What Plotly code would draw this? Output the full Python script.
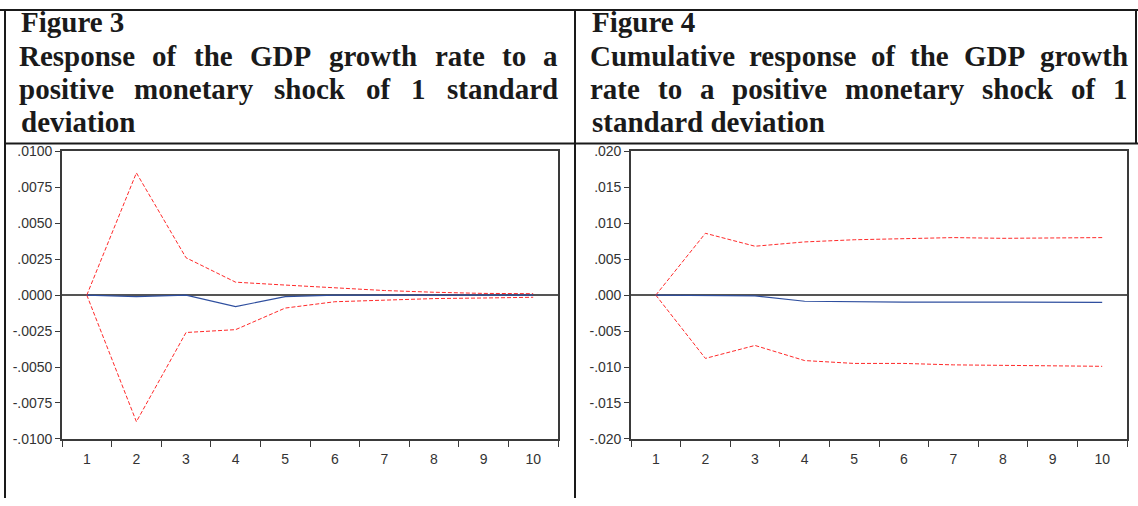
import plotly.graph_objects as go

# Impulse-response horizons
periods = [1, 2, 3, 4, 5, 6, 7, 8, 9, 10]

# Figure 3: response of GDP growth to a monetary shock (with +/- 2 S.E. bands)
resp_mid = [0.0, -0.0001, 0.0, -0.0008, -0.0001, 0.0, 0.0, 0.0, 0.0, 0.0]
resp_upper = [0.0, 0.0085, 0.0026, 0.0009, 0.0007, 0.0005, 0.00032, 0.0002, 0.00012, 0.0001]
resp_lower = [0.0, -0.0088, -0.0026, -0.0024, -0.0009, -0.00046, -0.00035, -0.00024, -0.0002, -0.00015]

# Figure 4: cumulative response
cum_mid = [0.0, -0.0001, -0.0001, -0.00085, -0.00095, -0.00097, -0.00097, -0.00098, -0.001, -0.001]
cum_upper = [0.0, 0.0086, 0.0068, 0.0074, 0.0077, 0.0078, 0.008, 0.0079, 0.0079, 0.008]
cum_lower = [0.0, -0.0088, -0.007, -0.0091, -0.0095, -0.0095, -0.0097, -0.0098, -0.0099, -0.0099]

# Axis ticks
resp_ticks = [-0.01, -0.0075, -0.005, -0.0025, 0.0, 0.0025, 0.005, 0.0075, 0.01]
cum_ticks = [-0.02, -0.015, -0.01, -0.005, 0.0, 0.005, 0.01, 0.015, 0.02]

# Panel headings (each inner list is one printed line)
left_heading = [["Figure", "3"],
                ["Response", "of", "the", "GDP", "growth", "rate", "to", "a"],
                ["positive", "monetary", "shock", "of", "1", "standard"],
                ["deviation"]]
right_heading = [["Figure", "4"],
                 ["Cumulative", "response", "of", "the", "GDP", "growth"],
                 ["rate", "to", "a", "positive", "monetary", "shock", "of", "1"],
                 ["standard", "deviation"]]
left_justified = [False, True, True, False]
right_justified = [False, True, True, False]

W, H = 1138, 506
RED = "#ff2a2a"
BLUE = "#2f4f9f"
INK = "#1a1a1a"
TITLE_FONT = "Liberation Serif"
TITLE_SIZE = 29

# Times-Bold advance widths (1/1000 em), metric-compatible with Liberation Serif Bold
TB = {" ": 250, "1": 500, "3": 500, "4": 500, "C": 722, "D": 722, "F": 611, "G": 778, "P": 611, "R": 722,
      "a": 500, "c": 444, "d": 556, "e": 444, "f": 333, "g": 500, "h": 556, "i": 278, "k": 556, "l": 278,
      "m": 833, "n": 556, "o": 500, "p": 556, "r": 444, "s": 389, "t": 333, "u": 556, "v": 500, "w": 722,
      "y": 500}


def text_w(word):
    return sum(TB.get(ch, 500) for ch in word) * TITLE_SIZE / 1000.0


def px_x(x):
    return x / W


def px_y(y):
    return 1 - y / H


def ticktext(vals, digits):
    out = []
    for v in vals:
        s = f"{v:.{digits}f}"
        if s.startswith("-0."):
            s = "-" + s[2:]
        elif s.startswith("0."):
            s = s[1:]
        out.append(s)
    return out


fig = go.Figure()

dash = "4px,2px"
fig.add_trace(go.Scatter(x=periods, y=resp_upper, mode="lines", line=dict(color=RED, width=1, dash=dash),
                         xaxis="x", yaxis="y", showlegend=False))
fig.add_trace(go.Scatter(x=periods, y=resp_lower, mode="lines", line=dict(color=RED, width=1, dash=dash),
                         xaxis="x", yaxis="y", showlegend=False))
fig.add_trace(go.Scatter(x=periods, y=resp_mid, mode="lines", line=dict(color=BLUE, width=1.2),
                         xaxis="x", yaxis="y", showlegend=False))
fig.add_trace(go.Scatter(x=periods, y=cum_upper, mode="lines", line=dict(color=RED, width=1, dash=dash),
                         xaxis="x2", yaxis="y2", showlegend=False))
fig.add_trace(go.Scatter(x=periods, y=cum_lower, mode="lines", line=dict(color=RED, width=1, dash=dash),
                         xaxis="x2", yaxis="y2", showlegend=False))
fig.add_trace(go.Scatter(x=periods, y=cum_mid, mode="lines", line=dict(color=BLUE, width=1.2),
                         xaxis="x2", yaxis="y2", showlegend=False))

tick_font = dict(family="Liberation Sans, Arial", size=14, color="#333333")
half_steps = [p - 0.5 for p in periods] + [periods[-1] + 0.5]

xcommon = dict(range=[0.5, 10.5], tickmode="array", tickvals=periods, ticktext=[str(p) for p in periods],
               ticks="outside", ticklen=6, tickcolor="rgba(0,0,0,0)", tickfont=tick_font,
               showline=True, linecolor="#3a3a3a", linewidth=1.6, mirror=True, showgrid=False,
               zeroline=False, fixedrange=True,
               minor=dict(tickmode="array", tickvals=half_steps, ticks="outside", ticklen=6,
                          tickcolor="#3a3a3a", tickwidth=1.2, showgrid=False))
ycommon = dict(tickmode="array", ticks="outside", ticklen=5, tickcolor="#3a3a3a", tickwidth=1.2,
               tickfont=tick_font, showline=True, linecolor="#3a3a3a", linewidth=1.6, mirror=True,
               showgrid=False, zeroline=True, zerolinecolor="#555555", zerolinewidth=1.5, fixedrange=True)

plot_top, plot_bottom = 148, 445
fig.update_layout(
    width=W, height=H, margin=dict(l=0, r=0, t=0, b=0),
    paper_bgcolor="white", plot_bgcolor="white",
    xaxis=dict(xcommon, domain=[px_x(62), px_x(558)], anchor="y"),
    yaxis=dict(ycommon, domain=[px_y(plot_bottom), px_y(plot_top)], anchor="x", range=[-0.01, 0.01],
               tickvals=resp_ticks, ticktext=ticktext(resp_ticks, 4)),
    xaxis2=dict(xcommon, domain=[px_x(631), px_x(1127)], anchor="y2"),
    yaxis2=dict(ycommon, domain=[px_y(plot_bottom), px_y(plot_top)], anchor="x2", range=[-0.02, 0.02],
                tickvals=cum_ticks, ticktext=ticktext(cum_ticks, 3)),
)

# Table rules around the headings and panels
rules = [
    (0, 2, W, 2),          # top rule
    (5, 140, W, 140),      # rule under the headings
    (5, 1, 5, H),          # left rule
    (575, 1, 575, H),      # centre rule
    (1136, 1, 1136, 140),  # right rule on the heading row
]
for x0, y0, x1, y1 in rules:
    fig.add_shape(type="line", xref="paper", yref="paper", x0=px_x(x0), y0=px_y(y0), x1=px_x(x1), y1=px_y(y1),
                  line=dict(color=INK, width=2))

# Headings, justified word by word
line_centres = [14, 50, 84, 118]


def add_heading(lines, justified, x_left, x_right):
    for words, just, yc in zip(lines, justified, line_centres):
        font = dict(family=TITLE_FONT, size=TITLE_SIZE, color=INK)
        if not just:
            fig.add_annotation(text="<b>" + " ".join(words) + "</b>", xref="paper", yref="paper",
                               x=px_x(x_left), y=px_y(yc), xanchor="left", yanchor="middle",
                               showarrow=False, font=font)
            continue
        widths = [text_w(w) for w in words]
        gap = (x_right - x_left - sum(widths)) / (len(words) - 1)
        x = x_left
        for w, wd in zip(words, widths):
            fig.add_annotation(text="<b>" + w + "</b>", xref="paper", yref="paper",
                               x=px_x(x + wd / 2), y=px_y(yc), xanchor="center", yanchor="middle",
                               showarrow=False, font=font)
            x += wd + gap


add_heading(left_heading, left_justified, 19, 558)
add_heading(right_heading, right_justified, 590, 1128)

fig.write_html("out.html")
